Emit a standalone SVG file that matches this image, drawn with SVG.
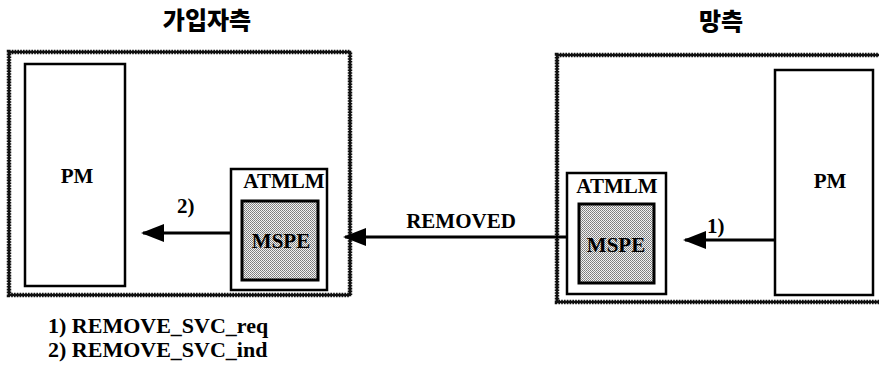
<svg xmlns="http://www.w3.org/2000/svg" width="879" height="368" viewBox="0 0 879 368">
  <defs>
    <pattern id="dots" width="2" height="2" patternUnits="userSpaceOnUse">
      <rect width="2" height="2" fill="#f2f2f2"/>
      <rect x="0" y="0" width="1" height="1" fill="#7a7a7a"/>
      <rect x="1" y="1" width="1" height="1" fill="#8a8a8a"/>
    </pattern>
    <marker id="arrow" markerUnits="userSpaceOnUse" markerWidth="24" markerHeight="20" viewBox="0 -10 24 20" refX="21" refY="0" orient="auto">
      <path d="M0,-9 L23,0 L0,9 Z" fill="#000"/>
    </marker>
  </defs>
  <style>
    .outer { fill: none; stroke: #111; stroke-width: 4.5; stroke-dasharray: 1.6 1.2; }
    .outerCore { fill: none; stroke: #111; stroke-width: 2.5; }
    .box { fill: #fff; stroke: #000; stroke-width: 2.5; }
    .mspe { fill: url(#dots); stroke: #000; stroke-width: 3; }
    .lbl { font-family: 'Liberation Serif', 'Times New Roman', 'DejaVu Serif', serif; font-weight: bold; font-size: 21px; fill: #000; }
    .legend { font-size: 22px; }
    .title { font-family: 'Noto Sans CJK KR', 'Noto Sans', sans-serif; font-weight: 900; font-size: 24px; fill: #000; }
    .conn { stroke: #000; stroke-width: 3; fill: none; marker-end: url(#arrow); }
  </style>
  <rect width="879" height="368" fill="#fff"/>

  <g id="subscriber-side">
    <text class="title" x="207" y="29" text-anchor="middle">가입자측</text>
    <rect class="outerCore" x="9" y="52" width="341" height="243"/>
    <rect class="outer" x="9" y="52" width="341" height="243"/>
  </g>
  <g id="network-side">
    <text class="title" x="721" y="30" text-anchor="middle">망측</text>
    <rect class="outerCore" x="557" y="55" width="340" height="247"/>
    <rect class="outer" x="557" y="55" width="340" height="247"/>
  </g>

  <g id="pm-left">
    <rect class="box" x="25" y="64" width="100" height="222"/>
    <text class="lbl" x="77" y="183" text-anchor="middle">PM</text>
  </g>
  <g id="atmlm-left">
    <rect class="box" x="231" y="169" width="96" height="121"/>
    <text class="lbl" x="284" y="188" text-anchor="middle">ATMLM</text>
  </g>
  <g id="mspe-left">
    <rect class="mspe" x="242" y="201" width="76" height="79"/>
    <text class="lbl" x="281" y="248" text-anchor="middle">MSPE</text>
  </g>

  <g id="pm-right">
    <rect class="box" x="775" y="70" width="98" height="225"/>
    <text class="lbl" x="830" y="188" text-anchor="middle">PM</text>
  </g>
  <g id="atmlm-right">
    <rect class="box" x="567" y="173" width="99" height="121"/>
    <text class="lbl" x="617" y="193" text-anchor="middle">ATMLM</text>
  </g>
  <g id="mspe-right">
    <rect class="mspe" x="579" y="204" width="75" height="79"/>
    <text class="lbl" x="616" y="252" text-anchor="middle">MSPE</text>
  </g>

  <g id="connectors">
    <line class="conn" x1="230" y1="233" x2="143" y2="233"/>
    <text class="lbl" x="177" y="213">2)</text>
    <line class="conn" x1="566" y1="237" x2="345" y2="237"/>
    <text class="lbl" x="461" y="228" text-anchor="middle">REMOVED</text>
    <line class="conn" x1="774" y1="240" x2="685" y2="240"/>
    <text class="lbl" x="707" y="233">1)</text>
  </g>

  <g id="legend">
    <text class="lbl legend" x="48" y="333">1) REMOVE_SVC_req</text>
    <text class="lbl legend" x="48" y="357">2) REMOVE_SVC_ind</text>
  </g>
</svg>
